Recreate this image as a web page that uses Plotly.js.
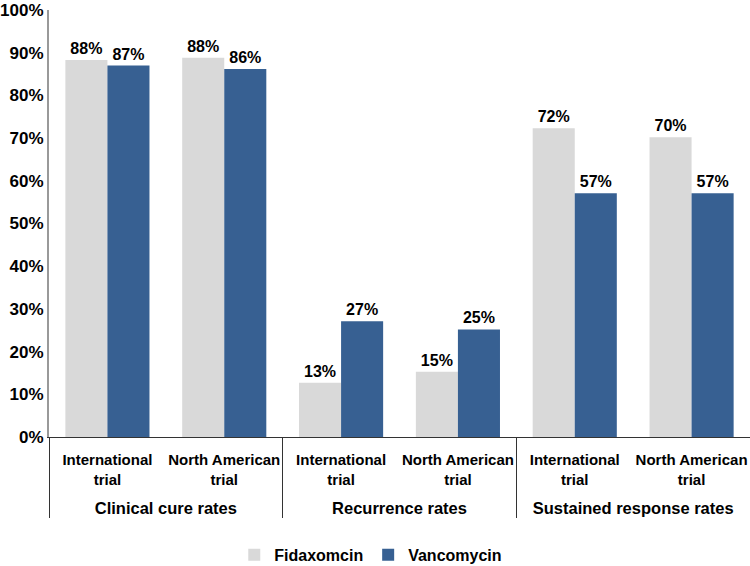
<!DOCTYPE html>
<html>
<head>
<meta charset="utf-8">
<script src="https://cdn.plot.ly/plotly-3.0.1.min.js"></script>
<style>html,body{margin:0;padding:0;background:#fff;}#chart{width:750px;height:566px;}</style>
</head>
<body>
<div id="chart"></div>
<script>
const groups = ["Clinical cure rates", "Clinical cure rates", "Recurrence rates", "Recurrence rates", "Sustained response rates", "Sustained response rates"];
const trials = ["International<br>trial", "North American<br>trial", "International<br>trial", "North American<br>trial", "International<br>trial", "North American<br>trial"];
const fidaxomicin = [88.3, 88.8, 12.7, 15.3, 72.3, 70.2];
const vancomycin = [87.0, 86.2, 27.1, 25.2, 57.1, 57.1];
const fidaxLabels = ["88%", "88%", "13%", "15%", "72%", "70%"];
const vancoLabels = ["87%", "86%", "27%", "25%", "57%", "57%"];

const fontFam = "Liberation Sans, Arial, sans-serif";
const groupLabels = groups.map(g => "\u00a0<br><span style='font-size:16.5px'>" + g + "</span>");
const data = [
  {type: "bar", name: "Fidaxomcin", x: [groupLabels, trials], y: fidaxomicin, text: fidaxLabels,
   textposition: "outside", texttemplate: "%{text}", cliponaxis: false,
   textfont: {family: fontFam, size: 16, color: "#000", weight: "bold"},
   marker: {color: "#d9d9d9"}},
  {type: "bar", name: "Vancomycin", x: [groupLabels, trials], y: vancomycin, text: vancoLabels,
   textposition: "outside", texttemplate: "%{text}", cliponaxis: false,
   textfont: {family: fontFam, size: 16, color: "#000", weight: "bold"},
   marker: {color: "#376092"}}
];
const layout = {
  width: 750, height: 566,
  margin: {l: 49, r: 0, t: 10, b: 129, autoexpand: false},
  paper_bgcolor: "#fff", plot_bgcolor: "#fff",
  font: {family: fontFam, size: 15, color: "#000", weight: "bold"},
  barmode: "group", bargap: 0.28, bargroupgap: 0,
  showlegend: true,
  legend: {orientation: "h", x: 0.459, xanchor: "center", y: -0.276, yanchor: "middle",
           itemwidth: 30, tracegroupgap: 0,
           font: {family: fontFam, size: 16, color: "#000", weight: "bold"}},
  xaxis: {type: "multicategory", showline: true, linecolor: "#333", linewidth: 1,
          showdividers: true, dividercolor: "#333", dividerwidth: 1, automargin: false,
          tickangle: 0, ticklabelstandoff: 9,
          tickfont: {family: fontFam, size: 15, color: "#000", weight: "bold"},
          ticks: "", showgrid: false},
  yaxis: {range: [0, 100], dtick: 10, ticksuffix: "%", showgrid: false, zeroline: false,
          showline: true, linecolor: "#999", linewidth: 2, ticks: "", automargin: false,
          tickfont: {family: fontFam, size: 17, color: "#000", weight: "bold"}}
};
Plotly.newPlot("chart", data, layout, {displayModeBar: false, staticPlot: true});
</script>
</body>
</html>
